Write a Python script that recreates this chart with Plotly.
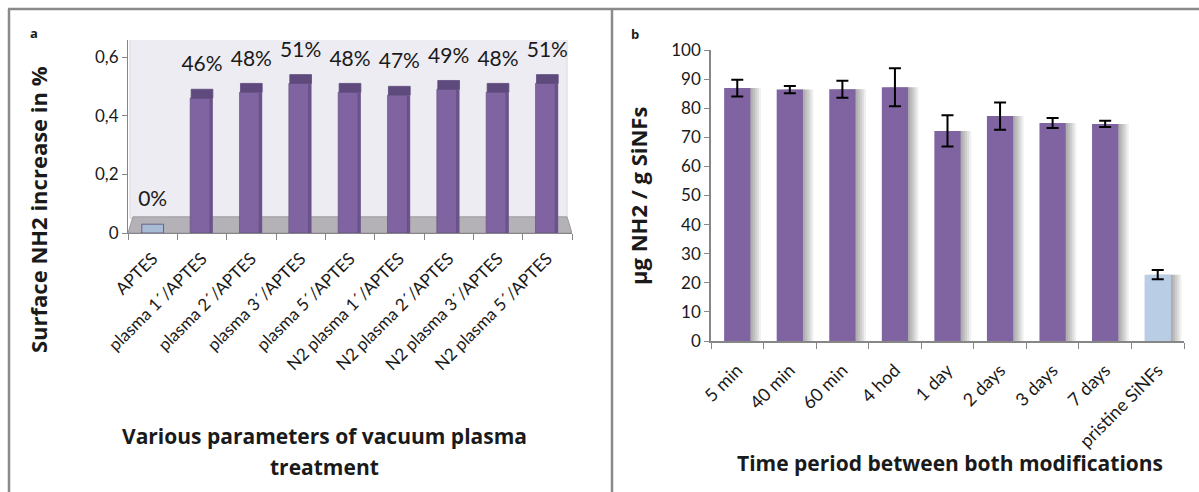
import plotly.graph_objects as go

W, H = 1199, 492

# ---------------- data ----------------
cats_a = ["APTES", "plasma 1´/APTES", "plasma 2´/APTES", "plasma 3´/APTES", "plasma 5´/APTES",
          "N2 plasma 1´/APTES", "N2 plasma 2´/APTES", "N2 plasma 3´/APTES", "N2 plasma 5´/APTES"]
vals_a = [0.0, 0.46, 0.48, 0.51, 0.48, 0.47, 0.49, 0.48, 0.51]
labels_a = ["0%", "46%", "48%", "51%", "48%", "47%", "49%", "48%", "51%"]
ytick_vals_a = [0, 0.2, 0.4, 0.6]
ytick_text_a = ["0", "0,2", "0,4", "0,6"]

cats_b = ["5 min", "40 min", "60 min", "4 hod", "1 day", "2 days", "3 days", "7 days", "pristine SiNFs"]
vals_b = [86.9, 86.4, 86.5, 87.2, 72.2, 77.3, 74.9, 74.6, 22.8]
err_b = [2.9, 1.25, 2.9, 6.5, 5.4, 4.7, 1.7, 1.05, 1.6]

# ---------------- styles ----------------
PURPLE = "#8064A2"
PURPLE_DARK = "#5F4A7D"
PURPLE_SIDE = "#6B548C"
LIGHTBLUE = "#B9CDE5"
APTES_BLUE = "#A9BCD6"
AXIS = "#868686"
FRAME = "#8A8A8A"
TXT = "#1a1a1a"
FONT = "Lato, Carlito, 'Open Sans', sans-serif"
BFONT = "'Open Sans', Lato, sans-serif"

def px_x(p):
    return p / W

def px_y(p):
    return 1 - p / H

colors_front = [APTES_BLUE if v == 0 else PURPLE for v in vals_a]
colors_cap = [APTES_BLUE if v == 0 else PURPLE_DARK for v in vals_a]
colors_b = [PURPLE] * (len(cats_b) - 1) + [LIGHTBLUE]

fig = go.Figure()

# ---------- panel a : pseudo-3D bars ----------
fig.add_trace(go.Bar(x=cats_a, y=vals_a, marker=dict(color=PURPLE_SIDE, line=dict(width=0)),
                     offset=0.15, width=0.07, xaxis="x", yaxis="y", showlegend=False, hoverinfo="skip"))
fig.add_trace(go.Bar(x=cats_a, y=vals_a, marker=dict(color=colors_front, line=dict(width=0.6, color="#5d4a7a")),
                     offset=-0.24, width=0.40, xaxis="x", yaxis="y", showlegend=False))
fig.add_trace(go.Bar(x=cats_a, y=[0.03] * len(vals_a), base=vals_a,
                     marker=dict(color=colors_cap, line=dict(width=0.8, color="#5d4a7a")),
                     offset=-0.22, width=0.44, xaxis="x", yaxis="y", showlegend=False, hoverinfo="skip"))
fig.add_trace(go.Scatter(x=cats_a, y=[v + 0.109 for v in vals_a], text=labels_a, mode="text",
                         textposition="middle center", textfont=dict(size=21, color=TXT, family=FONT),
                         xaxis="x", yaxis="y", showlegend=False, cliponaxis=False, hoverinfo="skip"))

# ---------- panel b : bars with soft shadow ----------
for k, op in enumerate([0.10, 0.10, 0.10, 0.10, 0.08]):
    fig.add_trace(go.Bar(x=cats_b, y=vals_b, marker=dict(color=f"rgba(60,60,60,{op})", line=dict(width=0)),
                         offset=-0.25 + 0.04 * (k + 1), width=0.5, xaxis="x2", yaxis="y2",
                         showlegend=False, hoverinfo="skip"))
fig.add_trace(go.Bar(x=cats_b, y=vals_b, marker=dict(color=colors_b, line=dict(width=0)),
                     offset=-0.25, width=0.5, xaxis="x2", yaxis="y2", showlegend=False,
                     error_y=dict(type="data", array=err_b, visible=True, color="black",
                                  thickness=2, width=6)))

# ---------- layout ----------
xa_dom = [px_x(128), px_x(572)]
ya_dom = [px_y(233), px_y(40)]
xb_dom = [px_x(711), px_x(1184)]
yb_dom = [px_y(341), px_y(50)]

shapes = [
    dict(type="path", xref="x", yref="y", layer="below",
         path="M -0.46 0.05 L 8.4 0.05 L 8.4 0.66 L -0.46 0.66 Z",
         fillcolor="#EDECF2", line=dict(color="#D8D7DD", width=1)),
    dict(type="path", xref="x", yref="y", layer="below",
         path="M -0.5 0 L 8.5 0 L 8.4 0.055 L -0.4 0.055 Z",
         fillcolor="#B4B2B7", line=dict(color="#9C9A9F", width=1)),
    dict(type="line", xref="paper", yref="paper", x0=px_x(8), x1=1, y0=px_y(9), y1=px_y(9),
         line=dict(color=FRAME, width=2.5)),
    dict(type="line", xref="paper", yref="paper", x0=px_x(9), x1=px_x(9), y0=px_y(9), y1=0,
         line=dict(color=FRAME, width=2.5)),
    dict(type="line", xref="paper", yref="paper", x0=px_x(612), x1=px_x(612), y0=px_y(9), y1=0,
         line=dict(color=FRAME, width=2.5)),
]

def ann(text, x, y, size=22, angle=0, family=BFONT):
    return dict(text=text, x=px_x(x), y=px_y(y), xref="paper", yref="paper", showarrow=False,
                xanchor="center", yanchor="middle", textangle=angle,
                font=dict(size=size, color=TXT, family=family))

annotations = [
    ann("<b>a</b>", 34, 33, size=13),
    ann("<b>b</b>", 635, 34, size=13),
    ann("<b>Surface NH2 increase in %</b>", 38, 210, size=22, angle=-90),
    ann("<b>Various parameters of vacuum plasma</b>", 324, 436, size=21),
    ann("<b>treatment</b>", 324, 467, size=21),
    ann("<b>µg NH2 / g SiNFs</b>", 638, 196, size=22, angle=-90),
    ann("<b>Time period between both modifications</b>", 950, 463, size=21),
]

fig.update_layout(
    width=W, height=H, margin=dict(l=0, r=0, t=0, b=0, pad=0, autoexpand=False),
    paper_bgcolor="white", plot_bgcolor="rgba(0,0,0,0)",
    barmode="overlay", showlegend=False,
    font=dict(family=FONT, color=TXT),
    xaxis=dict(domain=xa_dom, anchor="y", type="category", range=[-0.5, 8.5], automargin=False,
               showline=True, linecolor=AXIS, linewidth=1, ticks="outside", tickson="boundaries",
               ticklen=6, tickcolor=AXIS, tickangle=-45, ticklabelstandoff=8,
               tickfont=dict(size=17, color=TXT, family=FONT), showgrid=False, zeroline=False),
    yaxis=dict(domain=ya_dom, anchor="x", range=[0, 0.658], tickvals=ytick_vals_a, ticktext=ytick_text_a,
               automargin=False,
               showline=True, linecolor=AXIS, linewidth=1, ticks="outside", ticklen=5, tickcolor=AXIS,
               tickfont=dict(size=17, color=TXT, family=FONT), showgrid=False, zeroline=False),
    xaxis2=dict(domain=xb_dom, anchor="y2", type="category", range=[-0.5, 8.5], automargin=False,
                showline=True, linecolor=AXIS, linewidth=1.5, ticks="outside", tickson="boundaries",
                ticklen=6, tickcolor=AXIS, tickangle=-45, ticklabelstandoff=10,
                tickfont=dict(size=18, color=TXT, family=FONT), showgrid=False, zeroline=False),
    yaxis2=dict(domain=yb_dom, anchor="x2", range=[0, 100], dtick=10, automargin=False,
                showline=True, linecolor=AXIS, linewidth=1.5, ticks="outside", ticklen=5, tickcolor=AXIS,
                tickfont=dict(size=17, color=TXT, family=FONT), showgrid=False, zeroline=False),
    shapes=shapes, annotations=annotations,
)

fig.write_html("out.html", config={"displayModeBar": False},
               post_script="document.body.style.margin='0';document.body.style.overflow='hidden';")
